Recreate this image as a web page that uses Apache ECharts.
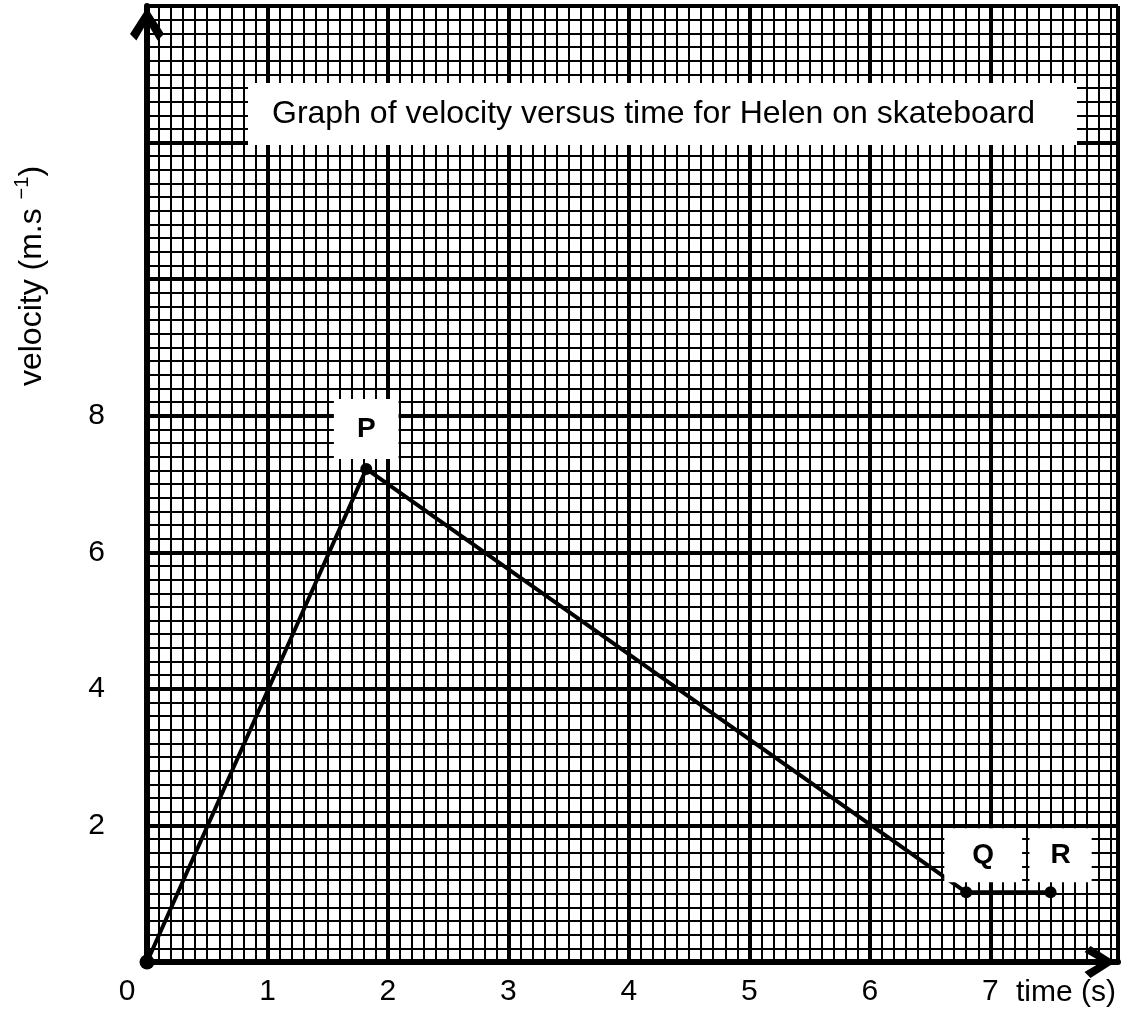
<!DOCTYPE html>
<html>
<head>
<meta charset="utf-8">
<title>Graph of velocity versus time for Helen on skateboard</title>
<script src="https://cdn.jsdelivr.net/npm/echarts@6/dist/echarts.min.js"></script>
<style>
  html, body { margin: 0; padding: 0; background: #fff; }
  #chart { width: 1129px; height: 1011px; }
</style>
</head>
<body>
<div id="chart"></div>
<script>
// values
var timeS = [0, 1.82, 6.8, 7.5];
var velocity = [0, 7.22, 1.02, 1.02];
var pointNames = ['', 'P', 'Q', 'R'];
var xTickLabels = [0, 1, 2, 3, 4, 5, 6, 7];
var yTickLabels = [2, 4, 6, 8];
var xMax = 8.06;
var yMax = 14;

var font = 'Liberation Sans, Arial, Helvetica, sans-serif';
// open arrow head, drawn pointing up (echarts turns it along the axis)
var chevron = 'path://M16 0L32 25L26 31L16 14L6 31L0 25Z';

// Q and R boxes sit a bit right of their dots on the sheet
var labelNudge = {
  Q: { offset: [17, 0], padding: [13, 28] },
  R: { offset: [10, 0], padding: [13, 21] }
};

var seriesData = timeS.map(function (t, i) {
  var item = { value: [t, velocity[i]], name: pointNames[i] };
  if (!pointNames[i]) item.label = { show: false };
  else if (labelNudge[pointNames[i]]) item.label = labelNudge[pointNames[i]];
  return item;
});

function xLabel(v) {
  if (xTickLabels.indexOf(v) < 0) return '';
  return v === 0 ? '{z|0}' : String(v);
}
function yLabel(v) {
  return yTickLabels.indexOf(v) >= 0 ? String(v) : '';
}

// the sheet has no heavy line at t = 8, only its border a little further on
var xMajorColors = [];
for (var k = 0; k <= 9; k++) xMajorColors.push(k === 8 ? 'rgba(0,0,0,0)' : '#000');

var myChart = echarts.init(document.getElementById('chart'));
myChart.setOption({
  animation: false,
  backgroundColor: '#fff',
  textStyle: { fontFamily: font },
  title: {
    text: 'Graph of velocity versus time for Helen on skateboard',
    left: 248,
    top: 83,
    padding: [15, 42, 15, 24],
    backgroundColor: '#fff',
    textStyle: { color: '#000', fontSize: 32, fontWeight: 'normal', fontFamily: font, lineHeight: 32 }
  },
  grid: { left: 147, right: 11, top: 6, bottom: 49, containLabel: false, outerBoundsMode: 'none' },
  xAxis: [
    {
      type: 'value', min: 0, max: xMax, interval: 1,
      axisLine: {
        show: true, onZero: false,
        lineStyle: { color: '#000', width: 6 },
        symbol: ['none', chevron], symbolSize: [32, 36], symbolOffset: [0, -18]
      },
      axisTick: { show: false },
      axisLabel: {
        color: '#000', fontSize: 30, fontFamily: font, margin: 15,
        formatter: xLabel,
        rich: { z: { color: '#000', fontSize: 30, fontFamily: font, padding: [0, 40, 0, 0] } }
      },
      splitLine: { show: true, lineStyle: { color: xMajorColors, width: 4 } }
    },
    {
      type: 'value', min: 0, max: xMax, interval: 0.1, position: 'bottom',
      axisLine: { show: false }, axisTick: { show: false }, axisLabel: { show: false },
      splitLine: { show: true, lineStyle: { color: '#000', width: 2 } }
    }
  ],
  yAxis: [
    {
      type: 'value', min: 0, max: yMax, interval: 2,
      axisLine: {
        show: true, onZero: false,
        lineStyle: { color: '#000', width: 6 },
        symbol: ['none', chevron], symbolSize: [34, 36], symbolOffset: [0, -18]
      },
      axisTick: { show: false },
      axisLabel: { color: '#000', fontSize: 30, fontFamily: font, margin: 42, formatter: yLabel },
      splitLine: { show: true, lineStyle: { color: '#000', width: 4 } }
    },
    {
      type: 'value', min: 0, max: yMax, interval: 0.2, position: 'left',
      axisLine: { show: false }, axisTick: { show: false }, axisLabel: { show: false },
      splitLine: { show: true, lineStyle: { color: '#000', width: 2 } }
    }
  ],
  graphic: [
    {
      type: 'text', x: 32, y: 276, rotation: Math.PI / 2,
      style: {
        text: 'velocity (m.s {sup|\u22121})',
        font: '32px ' + font,
        fill: '#000',
        textAlign: 'center',
        textVerticalAlign: 'middle',
        lineHeight: 40,
        rich: { sup: { fontSize: 20, fontFamily: font, verticalAlign: 'top', fill: '#000' } }
      }
    },
    {
      type: 'text', x: 1066, y: 993,
      style: { text: 'time (s)', font: '30px ' + font, fill: '#000', textAlign: 'center', textVerticalAlign: 'middle' }
    }
  ],
  series: [
    {
      type: 'line',
      data: seriesData,
      clip: false,
      symbol: 'circle',
      symbolSize: function (val, params) { return params.dataIndex === 0 ? 15 : 12; },
      showSymbol: true,
      itemStyle: { color: '#000' },
      lineStyle: { color: '#000', width: 4 },
      label: {
        show: true,
        position: 'top',
        distance: 4,
        formatter: '{b}',
        color: '#000',
        fontSize: 28,
        fontWeight: 'bold',
        fontFamily: font,
        lineHeight: 28,
        backgroundColor: '#fff',
        padding: [16, 23]
      },
      z: 5
    }
  ]
});
</script>
</body>
</html>
